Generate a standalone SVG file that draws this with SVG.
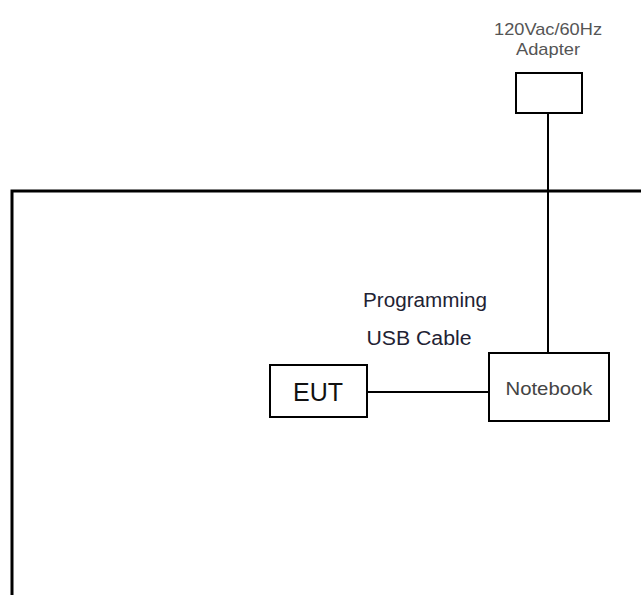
<svg xmlns="http://www.w3.org/2000/svg" width="641" height="595" viewBox="0 0 641 595">
<style>
.box{fill:#fff;stroke:#000;stroke-width:2}
.ln{fill:none;stroke:#000;stroke-width:2}
.t{font-family:"Liberation Sans",Arial,sans-serif;text-anchor:middle}
</style>
<rect width="641" height="595" fill="#fff"/>
<g id="enclosure">
<polyline points="12,595 12,191 641,191" fill="none" stroke="#000" stroke-width="3"/>
</g>
<g id="connectors">
<line class="ln" x1="548" y1="113" x2="548" y2="353"/>
<line class="ln" x1="367" y1="392" x2="489" y2="392"/>
</g>
<g id="adapter">
<rect class="box" x="516" y="73" width="66" height="40"/>
<text class="t" x="548" y="35" font-size="17" fill="#555" textLength="108" lengthAdjust="spacingAndGlyphs">120Vac/60Hz</text>
<text class="t" x="548" y="55" font-size="17" fill="#555" textLength="64" lengthAdjust="spacingAndGlyphs">Adapter</text>
</g>
<g id="notebook">
<rect class="box" x="489" y="353" width="120" height="68"/>
<text class="t" x="549" y="395" font-size="19" fill="#444" textLength="87" lengthAdjust="spacingAndGlyphs">Notebook</text>
</g>
<g id="eut">
<rect class="box" x="270" y="365" width="97" height="52"/>
<text class="t" x="318" y="401" font-size="25" fill="#111">EUT</text>
</g>
<g id="label">
<text class="t" x="425" y="307" font-size="20" fill="#223" textLength="124" lengthAdjust="spacingAndGlyphs">Programming</text>
<text class="t" x="419" y="345" font-size="20" fill="#223" textLength="105" lengthAdjust="spacingAndGlyphs">USB Cable</text>
</g>
</svg>
